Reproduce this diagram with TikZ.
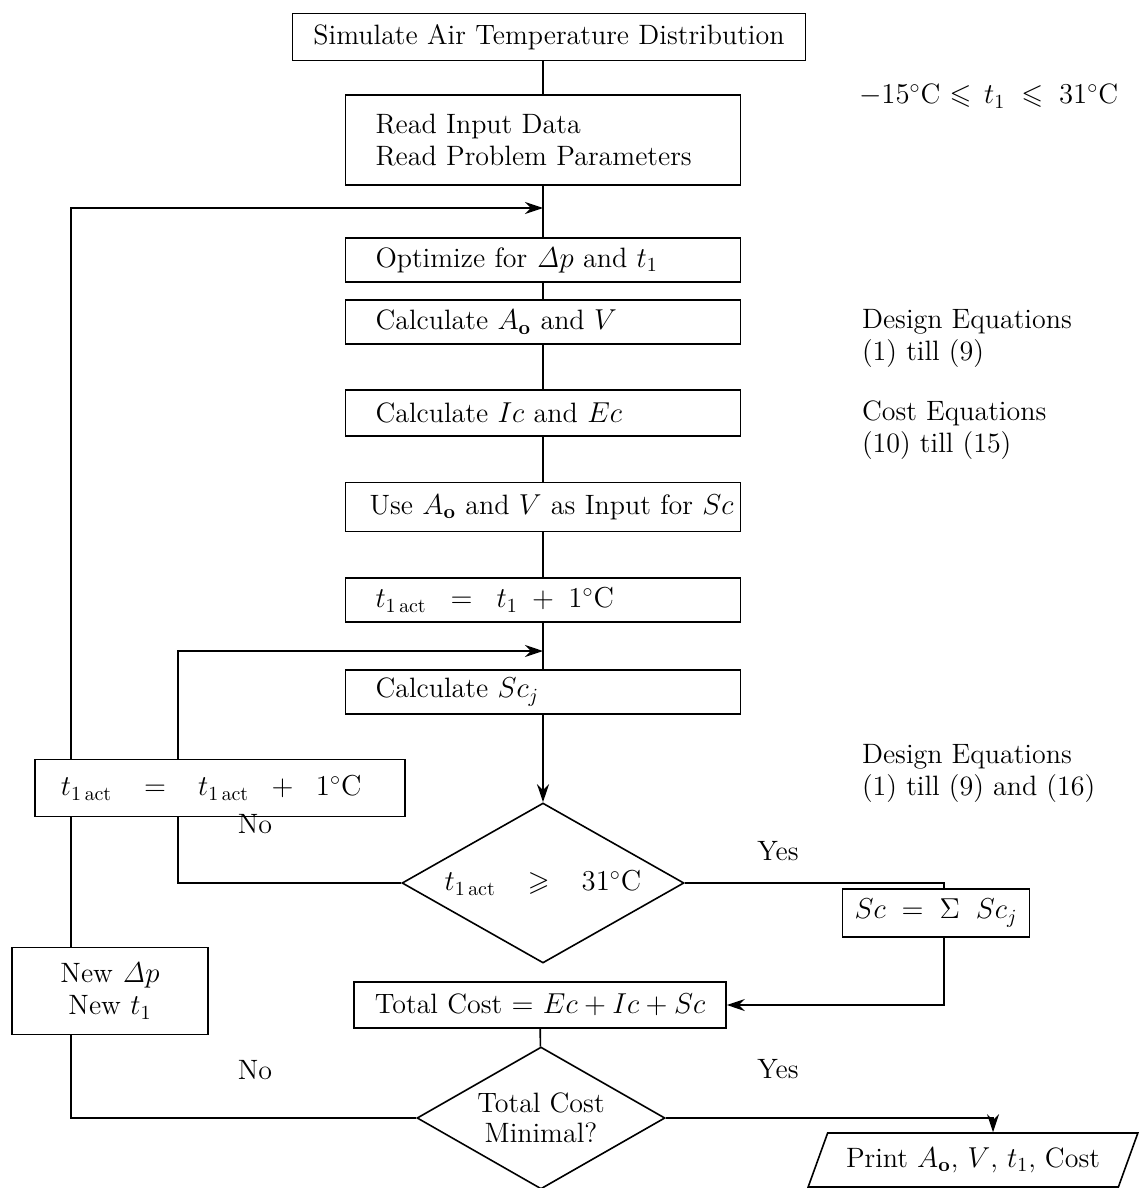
\documentclass[tikz,border=0pt]{standalone}
\usepackage{amssymb}
\usetikzlibrary{arrows.meta,shapes.geometric}
\tikzset{
    block/.style={
           rectangle,
           draw=black, thick,
           fill=white,
           minimum height=22pt,
           inner xsep=15pt,
           text width=167.5pt,
           align=left,
           font=\fontsize{14}{16}\selectfont,
           },
    decision/.style={
           diamond,
           draw=black, thick,
           inner sep=-2pt,
           aspect=1.75,
           align=center,
           font=\fontsize{14}{15}\selectfont,
           },
    io/.style={
           trapezium,
           trapezium left angle=65,
           trapezium right angle=115,
           trapezium stretches=true,
           draw=black, thick,
           font=\fontsize{14}{16}\selectfont,
           },
    note/.style={
           anchor=west,
           align=left,
           font=\fontsize{14}{16}\selectfont,
           },
}

\begin{document}
\begin{tikzpicture}[x=0.5pt,y=-0.5pt,>={Stealth[length=9pt,width=6pt]}]
 \useasboundingbox (0,0) rectangle (1141,1188);

 % main column
 \node[block, inner xsep=10pt, text width=236.5pt, align=center, minimum height=23.5pt] (sim) at (549,37)
  {Simulate Air Temperature Distribution};
 \node[block, minimum height=45pt] (read) at (543,140)
  {Read Input Data\\Read Problem Parameters};
 \node[block, below of=read, node distance=60pt] (opt)
  {Optimize for $\mathit{\Delta} p$ and $t_1$};
 \node[block, below of=opt, node distance=31pt] (calcA)
  {Calculate $A_{\mathbf{o}}$ and $V$};
 \node[block, below of=calcA, node distance=45.5pt, minimum height=23pt] (calcIc)
  {Calculate $Ic$ and $Ec$};
 \node[block, below of=calcIc, node distance=47pt, minimum height=24.5pt,
  inner xsep=12pt, text width=173.5pt] (use)
  {\mbox{Use $A_{\mathbf{o}}$ and $V$ as Input for $Sc$}};
 \node[block, below of=use, node distance=46.5pt] (tact)
  {$t_{1\,\mathrm{act}} \;\;=\;\; t_1 \;+\; 1^\circ\mathrm{C}$};
 \node[block, below of=tact, node distance=46pt] (calcSc)
  {Calculate $Sc_j$};
 \node[decision, below of=calcSc, node distance=95.5pt,
  minimum width=141pt, minimum height=80pt] (dec1)
  {$t_{1\,\mathrm{act}} \;\;\;\geqslant\;\;\; 31^\circ\mathrm{C}$};

 % side boxes
 \node[block, inner xsep=13pt, text width=159pt, minimum height=28.5pt] (inc) at (220,788)
  {$t_{1\,\mathrm{act}} \;\;\;=\;\;\; t_{1\,\mathrm{act}} \;\;+\;\; 1^\circ\mathrm{C}$};
 \node[block, text width={}, inner xsep=6pt, minimum width=92.5pt, align=center, minimum height=24pt] (sc) at (936,913)
  {\mbox{$Sc \;=\; \Sigma\;\; Sc_j$}};
 \node[block, inner xsep=8pt, text width=170pt, align=center, minimum height=23pt] (total) at (540,1005)
  {\mbox{Total Cost $=$ $Ec + Ic + Sc$}};
 \node[decision, minimum width=124pt, minimum height=71pt] (dec2) at (541,1118)
  {Total Cost\\Minimal?};
 \node[block, inner xsep=10pt, text width=78pt, align=center, minimum height=43.5pt] (new) at (110,991)
  {New $\mathit{\Delta} p$\\New $t_1$};
 \node[io, minimum width=165pt, minimum height=27pt] (print) at (973,1160)
  {Print $A_{\mathbf{o}}$, $V$, $t_1$, Cost};

 % notes on the right
 \node[note] (range) at (852,96) {$-15^\circ$C $\leqslant\, t_1 \;\leqslant\; 31^\circ$C};
 \node[note] (deq1) at (855,338) {Design Equations\\(1) till (9)};
 \node[note] (ceq) at (855,430) {Cost Equations\\(10) till (15)};
 \node[note] (deq2) at (855,773) {Design Equations\\(1) till (9) and (16)};

 % branch labels
 \node[note, anchor=center] (no1) at (255,824) {No};
 \node[note, anchor=center] (yes1) at (778,851) {Yes};
 \node[note, anchor=center] (no2) at (255,1070) {No};
 \node[note, anchor=center] (yes2) at (778,1069) {Yes};

 % loop points
 \coordinate (back) at (71,208);
 \coordinate (loopA) at (543,208);
 \coordinate (backB) at (178,651);
 \coordinate (loopB) at (543,651);

 % paths
 \begin{scope}[thick]
 \draw (read.north) -- (read.north |- sim.south);
 \draw (read) -- (opt);
 \draw (opt) -- (calcA);
 \draw (calcA) -- (calcIc);
 \draw (calcIc) -- (use);
 \draw (use) -- (tact);
 \draw (tact) -- (calcSc);
 \draw[->] (calcSc) -- (dec1);
 \draw (dec1.west) -| (inc.south -| backB);
 \draw[->] (inc.north -| backB) -- (backB) -- (loopB);
 \draw (dec1.east) -| ([xshift=4pt]sc.north);
 \draw[->] ([xshift=4pt]sc.south) |- (total.east);
 \draw (total) -- (dec2);
 \draw (dec2.west) -| (new.south -| back);
 \draw (new.north -| back) -- (inc.south -| back);
 \draw[->] (inc.north -| back) -- (back) -- (loopA);
 \draw[->] (dec2.east) -| ([xshift=10pt]print.north);
 \end{scope}
\end{tikzpicture}
\end{document}
